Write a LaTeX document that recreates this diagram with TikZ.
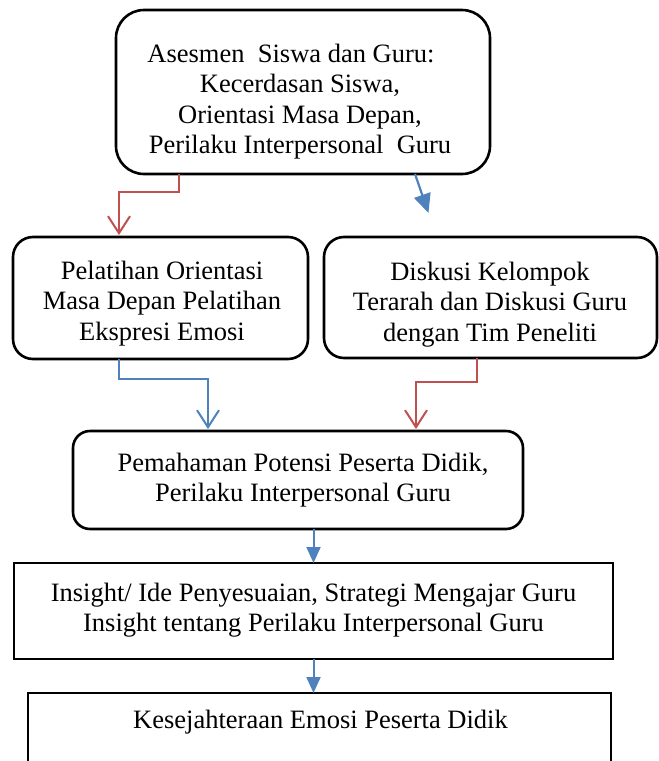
\documentclass[tikz,border=0pt]{standalone}
\usepackage{fontspec}
\setmainfont{Liberation Serif}
\usetikzlibrary{arrows.meta,calc}
\definecolor{arrred}{HTML}{C0504D}
\definecolor{arrblue}{HTML}{4F81BD}
\begin{document}
\begin{tikzpicture}[x=1pt,y=-1pt,
  box/.style={draw=black,line width=2.6pt,fill=none,inner sep=0pt,outer sep=0pt},
  rbox/.style={box,rounded corners=#1},
  lbl/.style={anchor=base,inner sep=0pt,font=\fontsize{26.5}{30.5}\selectfont},
  redarr/.style={draw=arrred,line width=2pt,-{Straight Barb[length=17pt,width=22pt]}},
  bluearr/.style={draw=arrblue,line width=2pt,-{Straight Barb[length=17pt,width=22pt]}},
  bluefill/.style={draw=arrblue,line width=2pt,-{Triangle[length=16pt,width=14pt]}},
  bluebig/.style={draw=arrblue,line width=2.2pt,-{Triangle[length=19pt,width=17pt]}}]
\useasboundingbox (0,0) rectangle (659,761);
\clip (0,0) rectangle (659,761);

% boxes
\node[rbox=28pt, minimum width=374pt, minimum height=164pt] (top) at (303,92) {};
\node[rbox=20pt, minimum width=295pt, minimum height=122pt] (ml) at (160.5,298) {};
\node[rbox=20pt, minimum width=333pt, minimum height=121pt] (dr) at (490.5,297.5) {};
\node[rbox=17pt, minimum width=450pt, minimum height=98pt] (third) at (298,480) {};
\node[box, minimum width=599pt, minimum height=96pt] (fourth) at (313.5,611) {};
\node[box, minimum width=583pt, minimum height=100pt] (fifth) at (319.5,743) {};

% texts
\node[lbl] (ttop) at (300,62) {\begin{tabular}[t]{@{}c@{}}Asesmen\ \ Siswa dan Guru:\kern18pt\\Kecerdasan Siswa,\\Orientasi Masa Depan,\\Perilaku Interpersonal\ \ Guru\end{tabular}};
\node[lbl] (tml) at (162,279) {\begin{tabular}[t]{@{}c@{}}Pelatihan Orientasi\\Masa Depan Pelatihan\\Ekspresi Emosi\end{tabular}};
\node[lbl] (tdr) at (490,280) {\begin{tabular}[t]{@{}c@{}}Diskusi Kelompok\\Terarah dan Diskusi Guru\\dengan Tim Peneliti\end{tabular}};
\node[lbl] (tthird) at (303,471) {\begin{tabular}[t]{@{}c@{}}Pemahaman Potensi Peserta Didik,\\Perilaku Interpersonal Guru\end{tabular}};
\node[lbl] (tfourth) at (313.5,601) {\begin{tabular}[t]{@{}c@{}}Insight/ Ide Penyesuaian, Strategi Mengajar Guru\\Insight tentang Perilaku Interpersonal Guru\end{tabular}};
\node[lbl] (tfifth) at (320.5,728) {Kesejahteraan Emosi Peserta Didik};

% connectors
\draw[redarr, shorten >=2pt] ($(top.south)+(-124,0)$) -- ++(0,18) -| ($(ml.north)+(-41.5,0)$);
\draw[bluebig] ($(top.south)+(112,0)$) -- ($(dr.north)+(-62,-24)$);
\draw[bluearr, shorten >=2pt] ($(ml.south)+(-41.5,0)$) -- ++(0,20) -| ($(third.north)+(-90,0)$);
\draw[redarr, shorten >=2pt] ($(dr.south)+(-13.5,0)$) -- ++(0,24) -| ($(third.north)+(118,0)$);
\draw[bluefill] (third.south -| fourth.north) -- (fourth.north);
\draw[bluefill] (fourth.south) -- (fourth.south |- fifth.north);
\end{tikzpicture}
\end{document}
